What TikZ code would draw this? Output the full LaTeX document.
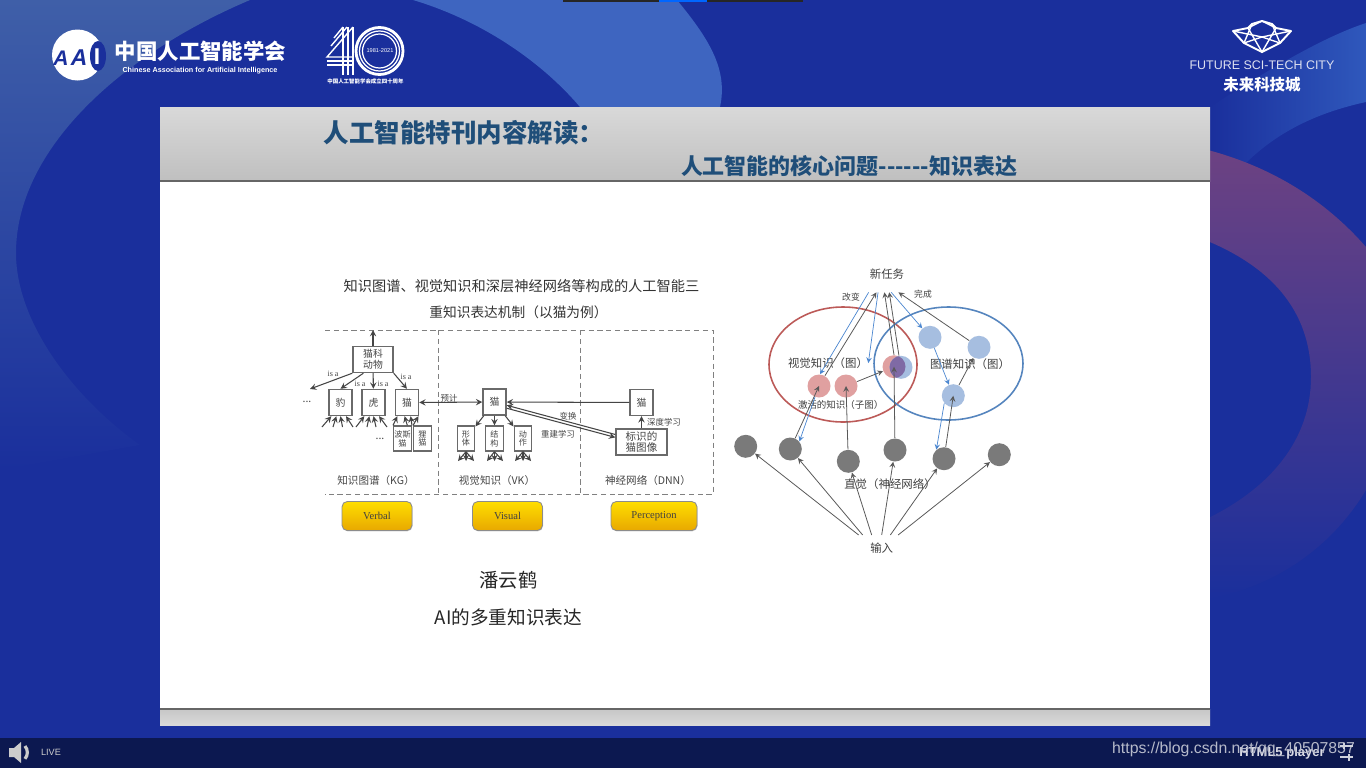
\documentclass[tikz,border=0pt]{standalone}
\usepackage{fontspec}
\setmainfont{Noto Sans CJK SC}
\newfontfamily\serifface{Liberation Serif}
\newfontfamily\sansface{Liberation Sans}
\usetikzlibrary{positioning, arrows, shadows}
\definecolor{basebg}{HTML}{1A2F9C}
\definecolor{barbg}{HTML}{0C1850}
\definecolor{titleblue}{HTML}{1F4E79}
\definecolor{inkgray}{HTML}{454545}
\definecolor{lightbg}{HTML}{3F5FA8}
\definecolor{blobbg}{HTML}{3E65C0}
\definecolor{bandbg}{HTML}{2F58BC}
\definecolor{pinkbg}{HTML}{6D4282}
\definecolor{rednodefill}{HTML}{E0A0A0}
\definecolor{bluenodefill}{HTML}{A6BEE0}
\definecolor{overlapfill}{HTML}{7F6AA5}
\definecolor{redring}{HTML}{BC5A58}
\definecolor{bluering}{HTML}{5585BE}
\definecolor{blueedge}{HTML}{4A86D0}
\definecolor{yellowtop}{HTML}{FFDE00}
\definecolor{yellowbot}{HTML}{E8A800}
\newcommand{\fsize}[1]{\fontsize{#1}{\dimexpr #1*11/10\relax}\selectfont}

\begin{document}
\begin{tikzpicture}[x=0.02cm, y=0.02cm, >=stealth]
\tikzstyle{every node}+=[inner sep=0pt]
\tikzstyle{kgbox}=[draw=inkgray!80, line width=0.8pt, fill=white, text=inkgray, align=center, font=\fsize{5.6pt}, minimum width=0.46cm, minimum height=0.52cm]
\tikzstyle{subbox}=[kgbox, font=\fsize{4.6pt}, minimum width=0.35cm, minimum height=0.5cm]
\tikzstyle{kgline}=[inkgray, line width=0.6pt]
\tikzstyle{kgtext}=[text=inkgray, font=\fsize{4.8pt}]
\tikzstyle{isatext}=[text=inkgray, font=\serifface\fsize{4.6pt}]
\tikzstyle{caption}=[text=inkgray, font=\fsize{6pt}]
\tikzstyle{button}=[rounded corners=3pt, draw=black!45, line width=0.5pt, top color=yellowtop, bottom color=yellowbot, drop shadow={shadow xshift=0.3pt, shadow yshift=-0.5pt, opacity=0.4}, minimum height=0.58cm, font=\serifface\fsize{6pt}, text=black!75]
\tikzstyle{graynode}=[circle, fill=black!52, minimum size=0.46cm]
\tikzstyle{rednode}=[circle, fill=rednodefill, minimum size=0.46cm]
\tikzstyle{bluenode}=[circle, fill=bluenodefill, minimum size=0.46cm]
\tikzstyle{graphline}=[black!65, line width=0.45pt]
\tikzstyle{blueline}=[blueedge, line width=0.4pt]
\tikzstyle{graphtext}=[text=black!75, font=\fsize{6.5pt}]
\useasboundingbox (0,0) rectangle (1366,-768);
\clip (0,0) rectangle (1366,-768);
% background
\fill [basebg] (0,0) rectangle (1366,-768);
\shade [top color=lightbg, bottom color=basebg] (0,0) -- (250,0) .. controls (120,-55) and (16,-150) .. (16,-253) .. controls (16,-320) and (70,-395) .. (140,-445) -- (0,-470) -- cycle;
\fill [blobbg] (413,0) .. controls (480,-20) and (540,-60) .. (580,-107) -- (720,-107) .. controls (728,-70) and (710,-40) .. (677,0) -- cycle;
\shade [left color=basebg, right color=bandbg] (1210,-107) -- (1210,-200) -- (1247,-162) .. controls (1280,-130) and (1320,-112) .. (1366,-102) -- (1366,-23) .. controls (1320,-38) and (1260,-75) .. (1210,-107) -- cycle;
\shade [top color=pinkbg, bottom color=basebg] (1200,-148) .. controls (1270,-165) and (1325,-200) .. (1366,-247) -- (1366,-490) .. controls (1330,-550) and (1270,-590) .. (1200,-600) -- (1200,-522) .. controls (1270,-490) and (1311,-440) .. (1311,-377) .. controls (1311,-310) and (1270,-265) .. (1200,-238) -- cycle;
\fill [barbg] (0,-738) rectangle (1366,-768);
\fill [black!85] (563,0) rectangle (803,-1.5);
\fill [blue!60!cyan] (659,0) rectangle (707,-1.5);
% slide
\fill [white] (160,-107) rectangle (1210,-725);
\shade [top color=black!15, bottom color=black!25] (160,-107) rectangle (1210,-181);
\fill [black!60] (160,-180) rectangle (1210,-182);
\shade [top color=black!22, bottom color=black!15] (160,-709) rectangle (1210,-725);
\fill [black!60] (160,-708) rectangle (1210,-710);
\node (titlea) at (464,-133) [text=titleblue, font=\bfseries\fsize{14.5pt}] {人工智能特刊内容解读：};
\node (titleb) at (849,-166) [text=titleblue, font=\bfseries\fsize{12.5pt}] {人工智能的核心问题{-}{-}{-}{-}{-}{-}知识表达};
% logos
\fill [white] (77.5,-55) circle (25.5);
\fill [basebg] (98,-56) ellipse (8 and 15);
\node (aaia) at (61,-58) [text=basebg, font=\sansface\bfseries\itshape\fsize{12pt}] {A};
\node (aaib) at (79,-58) [text=basebg, font=\sansface\bfseries\itshape\fsize{13pt}] {A};
\node (aaic) at (97,-57) [text=white, font=\sansface\bfseries\fsize{13pt}] {I};
\node (caai) at (200.5,-52) [text=white, font=\bfseries\fsize{12.2pt}, text height=10pt, text depth=1.2pt] {中国人工智能学会};
\node (caaien) at (200,-70.5) [text=white, font=\sansface\bfseries\fsize{4.1pt}] {Chinese Association for Artificial Intelligence};
\draw [white, line width=0.8pt] (343,-27) -- (343,-75);
\draw [white, line width=0.8pt] (348,-27) -- (348,-75);
\draw [white, line width=0.8pt] (353,-27) -- (353,-75);
\draw [white, line width=0.8pt] (353,-27) -- (327,-57) -- (353,-57);
\draw [white, line width=0.8pt] (347,-27) -- (331,-46);
\draw [white, line width=0.8pt] (343,-27) -- (334,-38);
\draw [white, line width=0.8pt] (327,-61) -- (353,-61);
\draw [white, line width=0.8pt] (327,-65) -- (353,-65);
\draw [white, line width=1.6pt] (379.5,-51) circle (23.5);
\draw [white, line width=0.7pt] (379.5,-51) circle (20);
\draw [white, line width=0.7pt] (379.5,-51) circle (17);
\node (years) at (380,-51) [text=white, font=\sansface\fsize{3.2pt}] {1981-2021};
\node (caaifour) at (365.5,-81.5) [text=white, font=\bfseries\fsize{3.1pt}] {中国人工智能学会成立四十周年};
\draw [white, line width=1.1pt, line join=round] (1233,-31) -- (1248,-28) -- (1252,-24) -- (1262,-21) -- (1272,-24) -- (1276,-28) -- (1291,-31) -- (1280,-43) -- (1262,-52) -- (1244,-43) -- cycle;
\draw [white, line width=0.8pt] (1233,-31) -- (1262,-37) -- (1291,-31);
\draw [white, line width=0.8pt] (1248,-28) -- (1262,-21) -- (1276,-28);
\draw [white, line width=0.8pt] (1244,-43) -- (1262,-37) -- (1280,-43);
\draw [white, line width=0.8pt] (1252,-24) -- (1244,-43);
\draw [white, line width=0.8pt] (1272,-24) -- (1280,-43);
\draw [white, line width=0.8pt] (1248,-28) -- (1262,-52) -- (1276,-28);
\node (futureen) at (1262,-65) [text=white!85!basebg, font=\sansface\fsize{7.1pt}] {FUTURE SCI-TECH CITY};
\node (futurezh) at (1262,-85) [text=white, font=\bfseries\fsize{8.8pt}] {未来科技城};
% player bar
\fill [black!20] (9,-748) -- (14,-748) -- (21,-742) -- (21,-763) -- (14,-757) -- (9,-757) -- cycle;
\draw [black!20, line width=1.8pt] (25,-746) arc (40:-40:10);
\node (live) at (51,-752) [text=black!20, font=\sansface\fsize{5.2pt}] {LIVE};
\node (player) at (1282,-753) [text=white!85!barbg, font=\sansface\bfseries\fsize{7.4pt}] {HTML5 player};
\node (url) at (1233.5,-749) [text=white!70!barbg, font=\sansface\fsize{9pt}] {https://blog.csdn.net/qq\_40507857};
\draw [white!80!barbg, line width=1pt] (1340,-746) -- (1353,-746);
\draw [white!80!barbg, line width=1pt] (1340,-757) -- (1353,-757);
\draw [white!80!barbg, line width=1pt] (1344,-743) -- (1344,-749);
\draw [white!80!barbg, line width=1pt] (1349,-754) -- (1349,-761);
% left figure
\node (heada) at (521.5,-286) [text=black!80, font=\fsize{8.1pt}] {知识图谱、视觉知识和深层神经网络等构成的人工智能三};
\node (headb) at (518.5,-312) [text=black!80, font=\fsize{7.8pt}] {重知识表达机制（以猫为例）};
\draw [black!50, densely dashed, line width=0.5pt] (325,-330) -- (713,-330) -- (713,-494) -- (325,-494);
\draw [black!50, densely dashed, line width=0.5pt] (438,-330) -- (438,-494);
\draw [black!50, densely dashed, line width=0.5pt] (580,-330) -- (580,-494);
\node (catfamily) at (373,-359.5) [kgbox, minimum width=0.8cm] {猫科\\动物};
\node (leopard) at (340.5,-402.5) [kgbox] {豹};
\node (tiger) at (373.5,-402.5) [kgbox] {虎};
\node (catkg) at (407,-402.5) [kgbox] {猫};
\node (persian) at (402.5,-438.5) [subbox] {波斯\\猫};
\node (tabby) at (422.5,-438.5) [subbox] {狸\\猫};
\node (dotsa) at (307,-402) [text=inkgray, font=\fsize{6pt}] {...};
\node (dotsb) at (380,-439) [text=inkgray, font=\fsize{6pt}] {...};
\coordinate (up) at (373,-330);
\coordinate (farleft) at (310,-389);
\draw [kgline, ->] (catfamily) -- (up);
\draw [kgline, ->] (catfamily.south west) -- (farleft);
\draw [kgline, ->] (catfamily.-125) -- (leopard.north);
\draw [kgline, ->] (catfamily) -- (tiger);
\draw [kgline, ->] (catfamily.south east) -- (catkg.north);
\node (isa) at (333,-374) [isatext] {is a};
\node (isb) at (360,-383.5) [isatext] {is a};
\node (isc) at (383,-383.5) [isatext] {is a};
\node (isd) at (406,-377) [isatext] {is a};
\coordinate (la) at (322,-427);
\coordinate (lb) at (333,-427);
\coordinate (lc) at (342.5,-427);
\coordinate (ld) at (353,-427);
\coordinate (ta) at (356,-427);
\coordinate (tb) at (367,-427);
\coordinate (tc) at (376,-427);
\coordinate (td) at (387,-427);
\draw [kgline, ->] (la) -- (leopard.-124);
\draw [kgline, ->] (lb) -- (leopard.-107);
\draw [kgline, ->] (lc) -- (leopard.south);
\draw [kgline, ->] (ld) -- (leopard.-68);
\draw [kgline, ->] (ta) -- (tiger.-124);
\draw [kgline, ->] (tb) -- (tiger.-107);
\draw [kgline, ->] (tc) -- (tiger.south);
\draw [kgline, ->] (td) -- (tiger.-68);
\draw [kgline, ->] (persian.north west) -- (catkg.-125);
\draw [kgline, ->] (persian.70) -- (catkg.-100);
\draw [kgline, ->] (persian.north east) -- (catkg.-75);
\draw [kgline, ->] (tabby.north west) -- (catkg.-50);
\node (catvk) at (494.5,-402) [kgbox] {猫};
\node (shape) at (466,-438.5) [subbox] {形\\体};
\node (struct) at (494.5,-438.5) [subbox] {结\\构};
\node (action) at (523,-438.5) [subbox] {动\\作};
\draw [kgline, ->] (catvk) -- (shape);
\draw [kgline, ->] (catvk) -- (struct);
\draw [kgline, ->] (catvk) -- (action);
\coordinate (sa) at (458,-461);
\coordinate (sb) at (466,-461);
\coordinate (sc) at (474,-461);
\coordinate (ka) at (487,-461);
\coordinate (kb) at (494.5,-461);
\coordinate (kc) at (503,-461);
\coordinate (aa) at (515,-461);
\coordinate (ab) at (523,-461);
\coordinate (ac) at (531,-461);
\draw [kgline, ->] (shape.south) -- (sa);
\draw [kgline, ->] (shape.south) -- (sb);
\draw [kgline, ->] (shape.south) -- (sc);
\draw [kgline, ->] (struct.south) -- (ka);
\draw [kgline, ->] (struct.south) -- (kb);
\draw [kgline, ->] (struct.south) -- (kc);
\draw [kgline, ->] (action.south) -- (aa);
\draw [kgline, ->] (action.south) -- (ab);
\draw [kgline, ->] (action.south) -- (ac);
\draw [kgline, <->] (catkg) -- (catvk);
\node (guess) at (449,-398) [kgtext] {预计};
\node (catdnn) at (641.5,-402.5) [kgbox] {猫};
\node (image) at (641.5,-442) [kgbox, font=\fsize{6pt}, minimum width=1.02cm, minimum height=0.52cm] {标识的\\猫图像};
\draw [kgline, ->] (image) -- (catdnn);
\draw [kgline, ->] (catdnn) -- (catvk);
\draw [kgline, ->] (image.164) -- (catvk.-15);
\draw [kgline, ->] (catvk.-27) -- (image.170);
\node (change) at (568,-416) [kgtext] {变换};
\node (rebuild) at (558,-434) [kgtext] {重建学习};
\node (deep) at (664,-422) [kgtext] {深度学习};
\node (kgname) at (376,-480) [caption] {知识图谱（KG）};
\node (vkname) at (497,-480) [caption] {视觉知识（VK）};
\node (dnnname) at (648,-480) [caption] {神经网络（DNN）};
\node (verbal) at (377,-516) [button, minimum width=1.4cm] {Verbal};
\node (visual) at (507.5,-516) [button, minimum width=1.4cm] {Visual};
\node (perception) at (654,-516) [button, minimum width=1.72cm] {Perception};
\node (author) at (508.5,-580) [text=black!85, font=\fsize{11pt}] {潘云鹤};
\node (topic) at (508.5,-617) [text=black!85, font=\fsize{10.6pt}] {AI的多重知识表达};
% right figure
\draw [redring, line width=0.9pt] (843,-364.5) ellipse (74 and 57.5);
\draw [bluering, line width=0.9pt] (948.5,-363.5) ellipse (74.5 and 56.5);
\node (task) at (887,-274) [graphtext, minimum width=0.96cm, minimum height=0.72cm] {新任务};
\node (input) at (881.7,-548.3) [graphtext, minimum width=1.12cm, minimum height=0.52cm] {输入};
\node (ra) at (819,-386) [rednode] {};
\node (rb) at (846,-386) [rednode] {};
\node (rc) at (894,-366.7) [rednode] {};
\node (ba) at (930,-337.3) [bluenode] {};
\node (bb) at (979,-347.3) [bluenode] {};
\node (bc) at (901,-367.3) [bluenode] {};
\node (bd) at (953.3,-395.7) [bluenode] {};
\begin{scope}
\clip (894,-366.7) circle (11.5);
\fill [overlapfill] (901,-367.3) circle (11.5);
\end{scope}
\node (ga) at (745.7,-446.3) [graynode] {};
\node (gb) at (790.3,-449) [graynode] {};
\node (gc) at (848.3,-461.3) [graynode] {};
\node (gd) at (895,-450) [graynode] {};
\node (ge) at (944,-458.7) [graynode] {};
\node (gf) at (999.3,-454.7) [graynode] {};
\node (vislabel) at (828,-363) [graphtext] {视觉知识（图）};
\node (kglabel) at (970,-364.3) [graphtext] {图谱知识（图）};
\node (active) at (840.7,-405) [graphtext, font=\fsize{5.4pt}] {激活的知识（子图）};
\node (intuition) at (890,-484) [graphtext] {直觉（神经网络）};
\node (changelabel) at (851,-297) [graphtext, font=\fsize{5pt}] {改变};
\node (donelabel) at (923,-294) [graphtext, font=\fsize{5pt}] {完成};
\draw [graphline, ->] (input.150) -- (ga);
\draw [graphline, ->] (input.145) -- (gb);
\draw [graphline, ->] (input.127) -- (gc);
\draw [graphline, ->] (input.90) -- (gd);
\draw [graphline, ->] (input.57) -- (ge);
\draw [graphline, ->] (input.39) -- (gf);
\draw [graphline, ->] (gb) -- (ra.center);
\draw [graphline, ->] (gc) -- (rb.center);
\draw [graphline, ->] (gd) -- (rc.center);
\draw [graphline, ->] (ge) -- (bd.center);
\draw [blueline, ->] (ra.-110) -- (gb.40);
\draw [blueline, ->] (bd.-140) -- (ge.130);
\draw [blueline, ->] (task.-135) -- (ra.85);
\draw [graphline, ->] (ra.60) -- (task.-120);
\draw [blueline, ->] (task.-116) -- (vislabel.east);
\draw [graphline, ->] (rc.90) -- (task.-98);
\draw [graphline, ->] (bc.100) -- (task.-83);
\draw [blueline, ->] (task.-77) -- (ba);
\draw [graphline, ->] (bb) -- (task.-58);
\draw [blueline, ->] (ba) -- (bd);
\draw [graphline, ->] (bd) -- (bb);
\draw [graphline, ->] (rb) -- (rc);
\end{tikzpicture}
\end{document}
